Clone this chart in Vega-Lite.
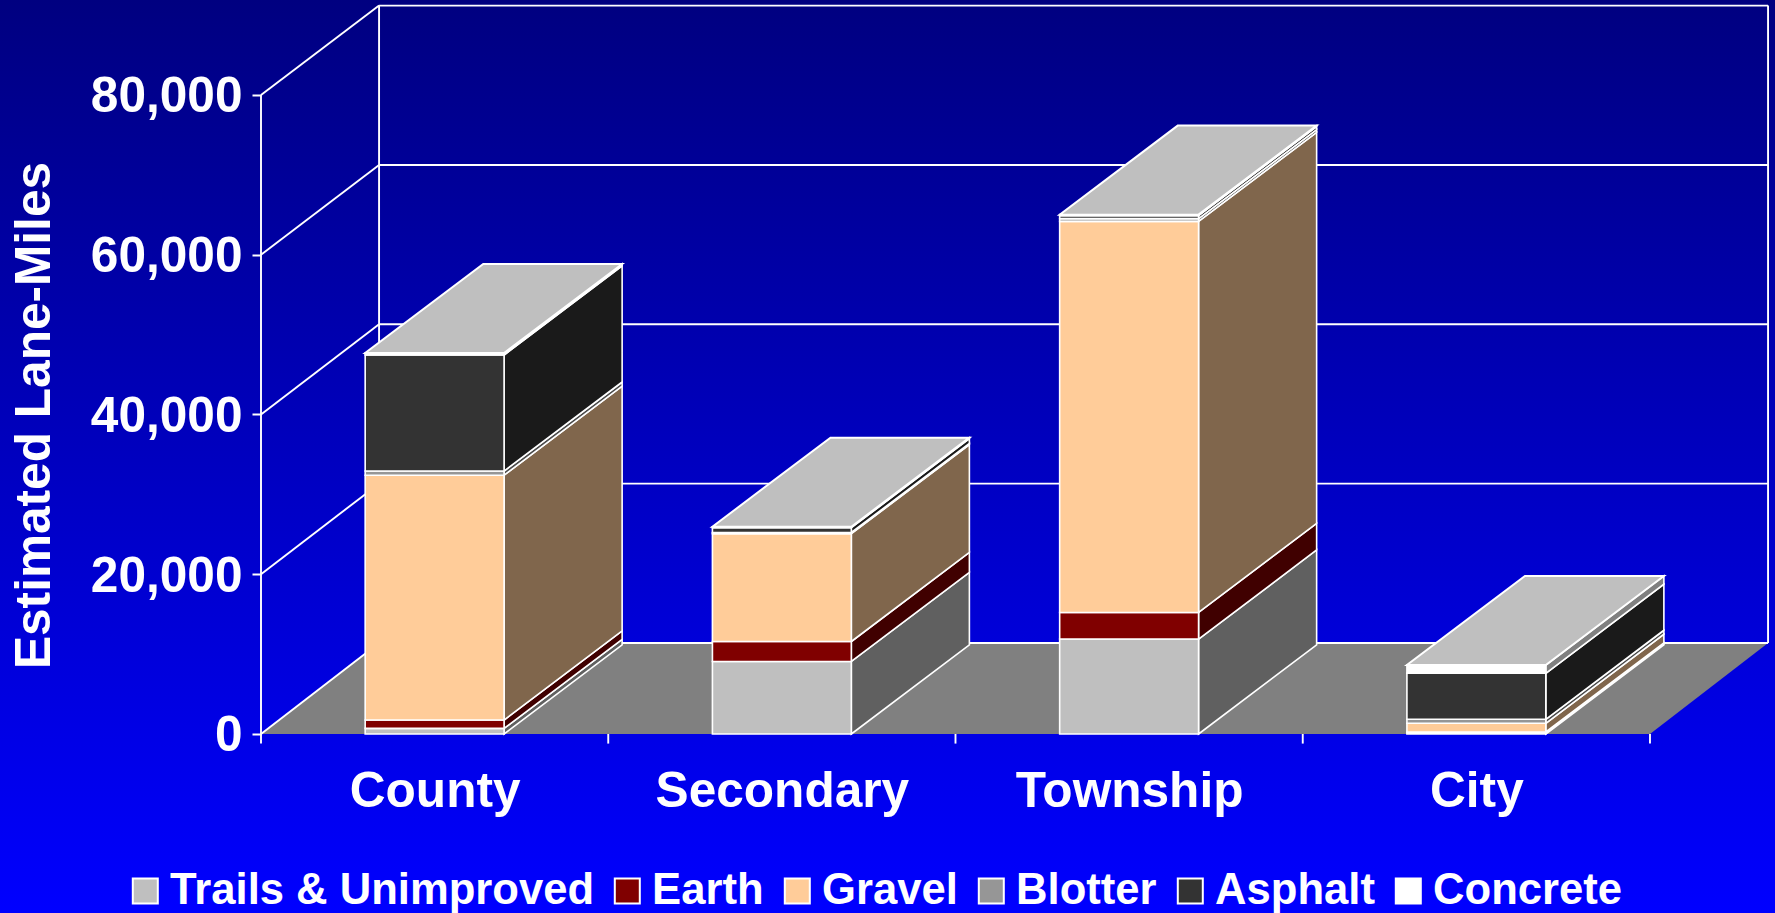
{
"$schema":"https://vega.github.io/schema/vega-lite/v6.json",
"width":1775,"height":913,"autosize":"none","padding":0,"background":"#0000ff",
"view":{"stroke":null,"fill":{"gradient":"linear","x1":0,"y1":0,"x2":0,"y2":1,"stops":[{"offset":0,"color":"#000080"},{"offset":1,"color":"#0000ff"}]}},
"datasets":{
"segments":[
{"road":"County","surface":"Trails & Unimproved","miles":700},
{"road":"County","surface":"Earth","miles":1050},
{"road":"County","surface":"Gravel","miles":30650},
{"road":"County","surface":"Blotter","miles":520},
{"road":"County","surface":"Asphalt","miles":14530},
{"road":"County","surface":"Concrete","miles":250},
{"road":"Secondary","surface":"Trails & Unimproved","miles":9080},
{"road":"Secondary","surface":"Earth","miles":2500},
{"road":"Secondary","surface":"Gravel","miles":13500},
{"road":"Secondary","surface":"Blotter","miles":150},
{"road":"Secondary","surface":"Asphalt","miles":600},
{"road":"Secondary","surface":"Concrete","miles":120},
{"road":"Township","surface":"Trails & Unimproved","miles":11890},
{"road":"Township","surface":"Earth","miles":3330},
{"road":"Township","surface":"Gravel","miles":48960},
{"road":"Township","surface":"Blotter","miles":340},
{"road":"Township","surface":"Asphalt","miles":380},
{"road":"Township","surface":"Concrete","miles":120},
{"road":"City","surface":"Trails & Unimproved","miles":150},
{"road":"City","surface":"Earth","miles":100},
{"road":"City","surface":"Gravel","miles":1090},
{"road":"City","surface":"Blotter","miles":500},
{"road":"City","surface":"Asphalt","miles":5760},
{"road":"City","surface":"Concrete","miles":1040}
],
"ticks":[{"tick":0},{"tick":20000},{"tick":40000},{"tick":60000},{"tick":80000}],
"cats":[{"pos":0},{"pos":1},{"pos":2},{"pos":3},{"pos":4}],
"walls":[{"edge":"front"},{"edge":"backLeft"},{"edge":"backRight"}],
"plane":[{"part":"floor"}]
},
"encoding":{
"x":{"field":"xa","type":"quantitative","title":null,"scale":{"domain":[-0.75162,4.36],"nice":false,"zero":false},
"axis":{"orient":"bottom","offset":-179,"values":[0.5,1.5,2.5,3.5],"labelExpr":"['County','Secondary','Township','City'][floor(datum.value)]","domain":false,"grid":false,"ticks":false,"labelPadding":33,"labelFont":"Liberation Sans","labelFontWeight":"bold","labelFontSize":49.6,"labelColor":"white","labelAngle":0,"labelAlign":"center","labelBound":false,"labelFlush":false,"labelOverlap":false,"labelLimit":600}},
"y":{"field":"ya","type":"quantitative","stack":null,"title":"Estimated Lane-Miles","scale":{"domain":[-22410,91893],"nice":false,"zero":false},
"axis":{"orient":"left","offset":-261,"values":[0,20000,40000,60000,80000],"labelExpr":"format(datum.value,',')","domain":false,"grid":false,"tickColor":"white","tickSize":9,"tickWidth":2,"labelPadding":10,"labelOffset":2,"labelFont":"Liberation Sans","labelFontWeight":"bold","labelFontSize":49.6,"labelColor":"white","labelBound":false,"labelFlush":false,"labelOverlap":false,"labelLimit":600,"titleFont":"Liberation Sans","titleFontWeight":"bold","titleFontSize":49.6,"titleColor":"white","titleAngle":-90,"titleX":-212,"titleY":415,"titleAlign":"center","titleBaseline":"alphabetic","titleLimit":900}}
},
"layer":[
{"data":{"name":"plane"},
"transform":[{"calculate":"[0,0.34,4,4.34]","as":"xa"},{"flatten":["xa"]},
{"calculate":"11393*max(0,(datum.xa-4)/0.34)","as":"ya"},
{"calculate":"11393*min(1,datum.xa/0.34)","as":"yb"}],
"mark":{"type":"area","fill":"#808080","line":false},
"encoding":{"y2":{"field":"yb"}}},
{"data":{"name":"ticks"},
"transform":[{"calculate":"0.34","as":"xa"},{"calculate":"4.34","as":"xb"},{"calculate":"datum.tick*0.9975+11393","as":"ya"},{"calculate":"datum.ya","as":"yb"}],
"mark":{"type":"rule","color":"white","strokeWidth":1.9},
"encoding":{"x2":{"field":"xb"},"y2":{"field":"yb"}}},
{"data":{"name":"ticks"},
"transform":[{"calculate":"0","as":"xa"},{"calculate":"0.34","as":"xb"},{"calculate":"datum.tick","as":"ya"},{"calculate":"datum.tick*0.9975+11393","as":"yb"}],
"mark":{"type":"rule","color":"white","strokeWidth":1.9},
"encoding":{"x2":{"field":"xb"},"y2":{"field":"yb"}}},
{"data":{"name":"walls"},
"transform":[{"calculate":"datum.edge=='front'?0:datum.edge=='backLeft'?0.34:4.34","as":"xa"},{"calculate":"datum.edge=='front'?0:11393","as":"ya"},{"calculate":"datum.edge=='front'?80000:91193","as":"yb"}],
"mark":{"type":"rule","color":"white","strokeWidth":1.9},
"encoding":{"x2":{"field":"xa"},"y2":{"field":"yb"}}},
{"data":{"name":"cats"},
"transform":[{"calculate":"datum.pos","as":"xa"},{"calculate":"0","as":"ya"},{"calculate":"-1200","as":"yb"}],
"mark":{"type":"rule","color":"white","strokeWidth":1.9},
"encoding":{"y2":{"field":"yb"}}},
{"data":{"name":"segments"},
"transform":[
{"calculate":"indexof(['Trails & Unimproved','Earth','Gravel','Blotter','Asphalt','Concrete'],datum.surface)","as":"rank"},
{"stack":"miles","groupby":["road"],"sort":[{"field":"rank","order":"ascending"}],"as":["v0","v1"]},
{"calculate":"indexof(['County','Secondary','Township','City'],datum.road)","as":"idx"},
{"calculate":"[0,1]","as":"t"},{"flatten":["t"]},
{"calculate":"datum.idx+0.7+0.34*datum.t","as":"xa"},
{"calculate":"datum.v0+11150*datum.t","as":"ya"},
{"calculate":"datum.v1+11150*datum.t","as":"yb"}],
"mark":{"type":"area","stroke":"white","strokeWidth":1.6,"line":false},
"encoding":{"y2":{"field":"yb"},"detail":{"field":"road"},
"color":{"field":"surface","type":"nominal","legend":null,"scale":{"domain":["Concrete","Asphalt","Blotter","Gravel","Earth","Trails & Unimproved"],"range":["#808080","#1A1A1A","#4B4B4B","#80664C","#400000","#606060"]}}}},
{"data":{"name":"segments"},
"transform":[
{"calculate":"indexof(['Trails & Unimproved','Earth','Gravel','Blotter','Asphalt','Concrete'],datum.surface)","as":"rank"},
{"stack":"miles","groupby":["road"],"sort":[{"field":"rank","order":"ascending"}],"as":["v0","v1"]},
{"calculate":"indexof(['County','Secondary','Township','City'],datum.road)+0.3","as":"xa"},
{"calculate":"datum.xa+0.4","as":"xb"},
{"calculate":"datum.v0","as":"ya"},{"calculate":"datum.v1","as":"yb"}],
"mark":{"type":"rect","stroke":"white","strokeWidth":1.6},
"encoding":{"x2":{"field":"xb"},"y2":{"field":"yb"},
"fill":{"field":"surface","type":"nominal","scale":{"domain":["Trails & Unimproved","Earth","Gravel","Blotter","Asphalt","Concrete"],"range":["#BFBFBF","#800000","#FFCC99","#969696","#333333","#FFFFFF"]},
"legend":{"orient":"none","legendX":123.5,"legendY":869,"direction":"horizontal","columns":6,"title":null,"symbolType":"square","symbolSize":625,"symbolStrokeColor":"white","symbolStrokeWidth":2,"symbolOpacity":1,"labelFont":"Liberation Sans","labelFontWeight":"bold","labelFontSize":43.6,"labelColor":"white","labelOffset":3,"labelLimit":900,"columnPadding":11,"rowPadding":0,"padding":0}}}},
{"data":{"name":"segments"},
"transform":[
{"calculate":"indexof(['Trails & Unimproved','Earth','Gravel','Blotter','Asphalt','Concrete'],datum.surface)","as":"rank"},
{"stack":"miles","groupby":["road"],"sort":[{"field":"rank","order":"ascending"}],"as":["v0","v1"]},
{"joinaggregate":[{"op":"max","field":"v1","as":"peak"}],"groupby":["road"]},
{"filter":"datum.v1==datum.peak"},
{"calculate":"indexof(['County','Secondary','Township','City'],datum.road)+0.3","as":"left"},
{"calculate":"[0,0.34,0.4,0.74]","as":"t"},{"flatten":["t"]},
{"calculate":"datum.left+datum.t","as":"xa"},
{"calculate":"datum.peak+11150*max(0,(datum.t-0.4)/0.34)","as":"ya"},
{"calculate":"datum.peak+11150*min(1,datum.t/0.34)","as":"yb"}],
"mark":{"type":"area","fill":"#BFBFBF","stroke":"white","strokeWidth":2,"line":false},
"encoding":{"y2":{"field":"yb"},"detail":{"field":"road"}}}
]
}
